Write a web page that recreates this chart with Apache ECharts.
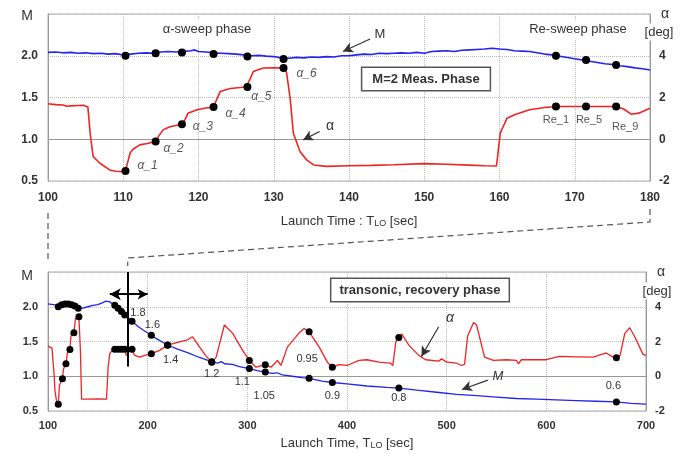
<!DOCTYPE html>
<html>
<head>
<meta charset="utf-8">
<script src="https://cdn.jsdelivr.net/npm/echarts@6/dist/echarts.min.js"></script>
<style>
  html, body { margin: 0; padding: 0; background: #fff; }
  #chart { width: 687px; height: 454px; }
</style>
</head>
<body>
<div id="chart"></div>
<script>
// top panel: 100-180 sec, [time, value]
const topMach = [[100,2.04],[101,2.045],[102,2.035],[103,2.04],[104,2.03],[105,2.035],[106,2.025],[107,2.03],[108,2.02],[109,2.025],[110,2.01],[111,2.02],[112,2.03],[113,2.035],[114,2.03],[115,2.045],[116,2.05],[117,2.045],[118,2.05],[119,2.06],[119.5,2.07],[120,2.05],[121,2.045],[122,2.035],[123,2.03],[124,2.025],[125,2.02],[126,2.01],[127,2.0],[128,2.005],[129,1.995],[130,1.99],[131,1.975],[132,1.97],[133,1.98],[134,1.975],[135,1.985],[136,1.98],[137,1.99],[138,1.985],[139,2.0],[140,2.0],[141,2.01],[142,2.02],[143,2.015],[144,2.03],[145,2.025],[146,2.03],[147,2.035],[148,2.03],[149,2.04],[150,2.03],[151,2.05],[152,2.055],[153,2.06],[154,2.05],[155,2.065],[156,2.07],[157,2.075],[158,2.08],[159,2.09],[160,2.08],[161,2.075],[162,2.06],[163,2.055],[164,2.05],[165,2.035],[166,2.02],[167,2.01],[168,1.995],[169,1.98],[170,1.965],[171,1.95],[172,1.935],[173,1.92],[174,1.905],[175,1.895],[176,1.88],[177,1.87],[178,1.855],[179,1.845],[180,1.83]];
const topAlpha = [[100,1.70],[101,1.66],[102,1.64],[102.5,1.58],[103,1.6],[104,1.62],[104.7,1.63],[105.3,1.55],[105.6,0.3],[106,-0.83],[106.9,-1.15],[108.2,-1.47],[109,-1.53],[110,-1.55],[110.45,-1.3],[110.9,-0.67],[111.3,-0.48],[112.2,-0.27],[113.2,-0.2],[114.3,-0.11],[114.7,0.15],[115.3,0.45],[116.2,0.6],[117.8,0.72],[118.2,0.93],[118.6,1.25],[119.8,1.41],[121,1.5],[122,1.54],[122.4,1.89],[122.9,2.29],[124.2,2.43],[126.3,2.5],[126.8,2.85],[127.3,3.25],[128.6,3.41],[130,3.42],[131.3,3.41],[131.7,3.2],[132.2,1.9],[132.6,0.3],[133.5,-0.6],[134.4,-1.0],[135.3,-1.23],[137,-1.3],[140,-1.27],[143,-1.25],[146,-1.22],[150,-1.17],[153,-1.2],[156,-1.24],[158,-1.27],[159.6,-1.28],[160.1,0.29],[160.5,0.61],[161,1.01],[162,1.17],[164,1.41],[166,1.52],[167.5,1.57],[171.5,1.57],[175.5,1.57],[176.5,1.45],[177.5,1.2],[178.5,1.25],[180,1.49]];
const topMachDots = [[110.3,2.0],[114.3,2.03],[117.8,2.04],[122,2.02],[126.5,1.99],[131.3,1.96],[167.5,2.0],[171.5,1.95],[175.5,1.89]];
const topAlphaDots = [[110.3,-1.52],[114.3,-0.11],[117.8,0.72],[122,1.54],[126.5,2.5],[131.3,3.41],[167.5,1.57],[171.5,1.57],[175.5,1.57]];
const topAlphaTags = ['α_1','α_2','α_3','α_4','α_5','α_6','Re_1','Re_5','Re_9'];

// bottom panel: 100-700 sec
const bottomMach = [[100,2.04],[105,2.03],[110,2.02],[115,2.04],[120,2.05],[125,2.02],[130,1.98],[135,1.98],[140,2.0],[145,2.02],[150,2.03],[155,2.06],[158,2.08],[160,2.10],[162,2.07],[165,2.04],[167.5,2.01],[171,1.96],[175,1.9],[180,1.85],[184.5,1.79],[190,1.72],[195,1.67],[203.7,1.59],[210,1.53],[220,1.45],[230,1.39],[240,1.34],[252,1.27],[264,1.21],[270,1.19],[274,1.21],[277,1.18],[285,1.17],[292,1.14],[302,1.11],[310,1.08],[318,1.06],[325,1.04],[330,1.05],[335,1.02],[345,1.0],[355,0.98],[362,0.97],[375,0.93],[385,0.91],[400,0.89],[420,0.86],[440,0.84],[452,0.83],[470,0.8],[490,0.77],[510,0.74],[530,0.72],[550,0.7],[570,0.68],[590,0.67],[610,0.66],[630,0.65],[650,0.64],[670,0.63],[685,0.61],[700,0.6]];
const bottomAlpha = [[100,1.73],[102,1.68],[104,1.62],[105.3,1.6],[106,0.2],[107,-0.84],[108.5,-1.4],[110.3,-1.61],[111.5,-0.5],[114.5,-0.15],[115.5,0.4],[118,0.72],[119.5,1.35],[122,1.54],[123,2.3],[126,2.5],[127.5,3.3],[131,3.43],[132.5,1.5],[133.7,-1.32],[140,-1.32],[150,-1.3],[158.7,-1.32],[160.3,0.5],[162,1.3],[165,1.55],[167,1.56],[177,1.56],[178.5,1.2],[181,1.4],[184.3,1.55],[187,1.2],[192,1.1],[197,1.2],[203.7,1.3],[212,1.49],[220,1.79],[232,1.98],[240,2.1],[245,2.27],[252,1.69],[258,1.2],[264.3,0.81],[268.7,1.1],[277,2.95],[285.3,2.47],[295.3,1.49],[302,0.91],[308.7,0.52],[318,0.66],[323.7,0.52],[330.3,0.91],[333.7,0.62],[340.3,1.69],[348.7,2.27],[352,2.5],[357,2.75],[362,2.56],[372,1.69],[380.3,0.81],[385.3,0.52],[392,0.67],[400,0.62],[412,0.91],[420,0.95],[432,0.81],[443.7,0.75],[446,0.62],[449,1.98],[452,2.23],[455,2.43],[462,1.79],[472,1.2],[479,0.95],[492,0.87],[495,1.0],[500,0.81],[510,0.75],[515,0.62],[518,0.7],[521,2.3],[527,3.1],[530,2.95],[538,1.1],[547,0.91],[560,0.95],[570,0.91],[572,0.72],[575,0.95],[590,0.95],[600,0.95],[613,1.14],[630,1.12],[647,1.1],[660,1.34],[667,1.1],[670.3,1.07],[674,1.2],[678.7,2.47],[683.7,2.79],[688.7,2.27],[697,1.26],[700,1.2]];
const bottomMachDots = [[110.3,2.0],[113.7,2.03],[117,2.04],[120.3,2.04],[123.7,2.03],[127,2.01],[130.3,1.98],[167,2.02],[170.3,1.98],[173.7,1.93],[177,1.88],[184.3,1.79],[203.7,1.59],[220,1.45],[264.3,1.21],[302,1.11],[318,1.06],[362,0.97],[385.3,0.91],[452,0.83],[670.3,0.63]];
const bottomMachTags = ['','','','','','','','','','','','1.8','1.6','1.4','1.2','1.1','1.05','0.95','0.9','0.8','0.6'];
const bottomAlphaDots = [[110.3,-1.61],[114.5,-0.15],[118,0.72],[122,1.54],[126,2.5],[131,3.43],[167,1.56],[170.3,1.56],[173.7,1.56],[177,1.56],[184.3,1.55],[203.7,1.3],[220,1.79],[264.3,0.81],[302,0.91],[318,0.66],[362,2.56],[385.3,0.52],[452,2.23],[670.3,1.07]];

// annotation arrows, in data units
const topMachArrow = [[142.8,2.2],[139.2,2.05]];
const topAlphaArrow = [[136.1,0.37],[133.9,-0.03]];
const bottomAlphaArrow = [[492,2.85],[474.7,1.14]];
const bottomMachArrow = [[541.3,0.945],[515.3,0.81]];
const cursorLine = [[180,2.5],[180,1.14]];
const cursorSpan = [[162,2.18],[200,2.18]];

// label offsets (px)
const topTagOffsets = [[22,-5],[18,7],[21,2],[22,7],[14,10],[23,6],[0,13],[3,13],[9,20]];
const bottomTagOffsets = {11:[6,-8],12:[1,-10],13:[3,15],14:[0,12],15:[-7,13],16:[-1,24],17:[-2,-19],18:[0,13],19:[0,10],20:[-3,-16]};

const FONT = 'Liberation Sans, Arial, sans-serif';
const RED = '#ee2424';
const BLUE = '#2424ee';

const chart = echarts.init(document.getElementById('chart'));

function arrow(pair, both) {
  return [
    { coord: pair[0], symbol: both ? 'arrow' : 'none', symbolSize: [9, 11] },
    { coord: pair[1], symbol: 'arrow', symbolSize: [8, 10] }
  ];
}
function plainLine(pair) {
  return [{ coord: pair[0], symbol: 'none' }, { coord: pair[1], symbol: 'none' }];
}
function marks(data, color, width) {
  return { silent: true, label: { show: false }, lineStyle: { color: color || '#333', width: width || 1.2, type: 'solid' }, data: data };
}

function xAx(grid, min, max, step, size, gap) {
  return {
    type: 'value', gridIndex: grid, min: min, max: max, interval: step,
    axisLine: { lineStyle: { color: '#999' } },
    axisTick: { show: false },
    axisLabel: { color: '#333', fontSize: size, fontWeight: 'bold', fontFamily: FONT, margin: grid === 0 ? 11 : 9 },
    splitLine: { lineStyle: { type: 'dotted', color: '#bbb' } },
    name: grid === 0 ? 'Launch Time : T{s|LO} [sec]' : 'Launch Time, T{s|LO} [sec]',
    nameLocation: 'middle', nameGap: gap,
    nameTextStyle: { color: '#333', fontSize: 13, fontFamily: FONT,
      rich: { s: { fontSize: 9, fontFamily: FONT, color: '#333', padding: [4, 0, 0, 0] } } }
  };
}

function yAx(grid, right, size) {
  return {
    type: 'value', gridIndex: grid, position: right ? 'right' : 'left',
    min: right ? -2 : 0.5, max: right ? 6 : 2.5, interval: right ? 2 : 0.5,
    axisLine: { show: true, lineStyle: { color: '#999' } },
    axisTick: { show: false },
    axisLabel: { color: '#333', fontSize: size, fontWeight: 'bold', fontFamily: FONT, margin: right ? 9 : 10,
      formatter: right ? (v => v === 6 ? '' : String(v)) : (v => v === 2.5 ? '' : v.toFixed(1)) },
    splitLine: { show: !right, lineStyle: { type: 'dotted', color: '#bbb' } }
  };
}

function txt(x, y, s, opt) {
  return { type: 'text', x: x, y: y, z: 50, silent: true,
    style: Object.assign({ text: s, fill: '#333', font: '13px ' + FONT, align: 'center', verticalAlign: 'middle' }, opt || {}) };
}

const texts = [
  txt(27, 16, 'M', { font: '14px ' + FONT }),
  txt(665, 14, 'α', { font: '14px ' + FONT }),
  txt(659, 32, '[deg]', { font: '13px ' + FONT, backgroundColor: '#fff', padding: [2, 1, 2, 1] }),
  txt(207, 29, 'α-sweep phase', { backgroundColor: '#fff', padding: [3, 2, 3, 2] }),
  txt(578, 29, 'Re-sweep phase', { backgroundColor: '#fff', padding: [3, 2, 3, 2] }),
  txt(426, 79, 'M=2 Meas. Phase', { font: 'bold 13px ' + FONT, backgroundColor: '#fff',
    borderColor: '#555', borderWidth: 1.5, padding: [5, 10, 4, 10] }),
  txt(380, 34, 'M', { font: '13px ' + FONT }),
  txt(330, 126, 'α', { font: '14px ' + FONT }),
  txt(27, 276, 'M', { font: '14px ' + FONT }),
  txt(661, 272, 'α', { font: '14px ' + FONT }),
  txt(657, 291, '[deg]', { font: '13px ' + FONT, backgroundColor: '#fff', padding: [2, 1, 2, 1] }),
  txt(420, 290, 'transonic, recovery phase', { font: 'bold 13px ' + FONT, backgroundColor: '#fff',
    borderColor: '#555', borderWidth: 1.5, padding: [5, 8, 4, 8] }),
  txt(450, 318, 'α', { font: 'italic 14px ' + FONT }),
  txt(498, 376, 'M', { font: 'italic 13px ' + FONT })
];

chart.setOption({
  animation: false,
  grid: [
    { left: 48, right: 37, top: 14, height: 167, show: true, borderColor: '#aaa', borderWidth: 1 },
    { left: 48, right: 41, top: 272, height: 139, show: true, borderColor: '#aaa', borderWidth: 1 }
  ],
  xAxis: [ xAx(0, 100, 180, 10, 12, 34), xAx(1, 100, 700, 100, 11, 26) ],
  yAxis: [ yAx(0, false, 12), yAx(0, true, 12), yAx(1, false, 11), yAx(1, true, 11) ],
  series: [
    { type: 'line', xAxisIndex: 0, yAxisIndex: 0, data: topMach, showSymbol: false, z: 3,
      lineStyle: { color: BLUE, width: 1.6 }, markLine: marks([arrow(topMachArrow)]) },
    { type: 'line', xAxisIndex: 0, yAxisIndex: 1, data: topAlpha, showSymbol: false, z: 3,
      lineStyle: { color: RED, width: 1.6 }, markLine: marks([arrow(topAlphaArrow)]) },
    { type: 'scatter', xAxisIndex: 0, yAxisIndex: 0, data: topMachDots, symbolSize: 8, z: 5,
      itemStyle: { color: '#000', opacity: 1 } },
    { type: 'scatter', xAxisIndex: 0, yAxisIndex: 1, symbolSize: 8, z: 5, itemStyle: { color: '#000', opacity: 1 },
      data: topAlphaDots.map((p, i) => ({
        value: p,
        label: { show: true, position: 'inside', offset: topTagOffsets[i], formatter: topAlphaTags[i],
          color: '#555', fontFamily: FONT,
          fontSize: i < 6 ? 12 : 11, fontStyle: i < 6 ? 'italic' : 'normal' }
      })) },
    { type: 'line', xAxisIndex: 1, yAxisIndex: 2, data: bottomMach, showSymbol: false, z: 3,
      lineStyle: { color: BLUE, width: 1.3 }, markLine: marks([arrow(bottomMachArrow)]) },
    { type: 'line', xAxisIndex: 1, yAxisIndex: 3, data: bottomAlpha, showSymbol: false, z: 3,
      lineStyle: { color: RED, width: 1.3 }, markLine: marks([arrow(bottomAlphaArrow)]) },
    { type: 'scatter', xAxisIndex: 1, yAxisIndex: 3, data: bottomAlphaDots, symbolSize: 7, z: 5,
      itemStyle: { color: '#000', opacity: 1 } },
    { type: 'scatter', xAxisIndex: 1, yAxisIndex: 2, symbolSize: 7, z: 6, itemStyle: { color: '#000', opacity: 1 },
      data: bottomMachDots.map((p, i) => ({
        value: p,
        label: { show: !!bottomMachTags[i], position: 'inside', offset: bottomTagOffsets[i] || [0, 0],
          formatter: bottomMachTags[i], color: '#333', fontSize: 11, fontFamily: FONT }
      })),
      markLine: marks([plainLine(cursorLine), arrow(cursorSpan, true)], '#000', 2) }
  ],
  graphic: texts
});

// dashed zoom connectors between the two panels
const tl = chart.convertToPixel({ gridIndex: 0 }, [100, 0.5]);
const tr = chart.convertToPixel({ gridIndex: 0 }, [180, 0.5]);
const bl = chart.convertToPixel({ gridIndex: 1 }, [100, 2.5]);
const br = chart.convertToPixel({ gridIndex: 1 }, [180, 2.5]);
const dash = { stroke: '#555', lineWidth: 1.2, lineDash: [6, 4], fill: null };
chart.setOption({
  graphic: texts.concat([
    { type: 'polyline', silent: true, shape: { points: [[tl[0], tl[1] + 32], [bl[0], bl[1] - 9]] }, style: dash },
    { type: 'polyline', silent: true,
      shape: { points: [[tr[0], tr[1] + 28], [tr[0], tr[1] + 41], [br[0], br[1] - 14], [br[0], br[1] - 6]] }, style: dash }
  ])
});
</script>
</body>
</html>
